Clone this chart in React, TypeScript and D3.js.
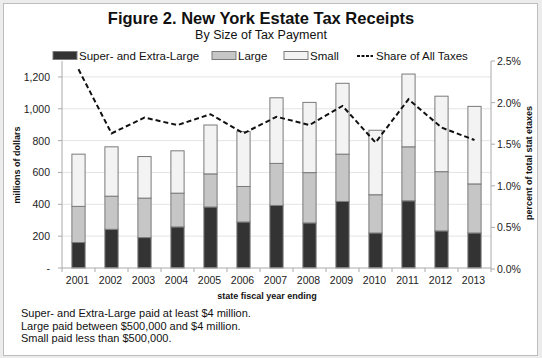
import React, { useEffect, useRef } from 'react';
import * as d3 from 'd3';

const years = ['2001', '2002', '2003', '2004', '2005', '2006', '2007', '2008', '2009', '2010', '2011', '2012', '2013'];
const superLarge = [160, 243, 191, 258, 383, 289, 393, 283, 418, 220, 422, 233, 220];
const large = [227, 208, 248, 212, 208, 223, 264, 316, 297, 240, 339, 372, 308];
const small = [328, 310, 261, 266, 307, 345, 412, 441, 445, 405, 457, 474, 487];
const share = [2.4, 1.63, 1.82, 1.73, 1.86, 1.63, 1.83, 1.73, 1.96, 1.52, 2.04, 1.7, 1.55];
const leftTicks = [0, 200, 400, 600, 800, 1000, 1200];
const rightTicks = [0, 0.5, 1.0, 1.5, 2.0, 2.5];
const footnotes = [
  'Super- and Extra-Large paid at least $4 million.',
  'Large paid between $500,000 and $4 million.',
  'Small paid less than $500,000.',
];

const FONT = '"Liberation Sans", Arial, sans-serif';

const App = () => {
  const svgRef = useRef(null);

  useEffect(() => {
    const svg = d3.select(svgRef.current);
    svg.selectAll('*').remove();

    const W = 542, H = 358;
    const plot = { left: 62, right: 491, top: 61, bottom: 268 };

    svg.append('rect').attr('width', W).attr('height', H).attr('fill', '#ececec');
    svg.append('rect')
      .attr('x', 3.5).attr('y', 3.5).attr('width', 534).attr('height', 352)
      .attr('fill', 'white').attr('stroke', '#bdbdbd');

    const x = d3.scaleBand().domain(years).range([plot.left, plot.right]).paddingInner(0.6).paddingOuter(0.3);
    const band = d3.scaleBand().domain(years).range([plot.left, plot.right]);
    const y = d3.scaleLinear().domain([0, 1300]).range([plot.bottom, plot.top]);
    const y2 = d3.scaleLinear().domain([0, 2.5]).range([plot.bottom + 1, plot.top]);

    // gridlines
    svg.append('g')
      .selectAll('line')
      .data(leftTicks.slice(1))
      .join('line')
        .attr('x1', plot.left).attr('x2', plot.right)
        .attr('y1', d => y(d)).attr('y2', d => y(d))
        .attr('stroke', '#e4e4e4').attr('stroke-width', 1);

    // bars
    const rows = years.map((yr, i) => ({ label: yr, superLarge: superLarge[i], large: large[i], small: small[i] }));
    const keys = ['superLarge', 'large', 'small'];
    const color = d3.scaleOrdinal().domain(keys).range(['#333333', '#c6c6c6', '#f3f3f3']);
    const stacked = d3.stack().keys(keys)(rows);

    svg.append('g')
      .selectAll('g')
      .data(stacked)
      .join('g')
        .attr('fill', d => color(d.key))
      .selectAll('rect')
      .data(d => d)
      .join('rect')
        .attr('x', (d, i) => x(years[i]))
        .attr('y', d => y(d[1]))
        .attr('width', x.bandwidth())
        .attr('height', d => y(d[0]) - y(d[1]))
        .attr('stroke', '#7a7a7a').attr('stroke-width', 1);

    // axes lines
    svg.append('line').attr('x1', plot.left).attr('x2', plot.left).attr('y1', plot.top).attr('y2', plot.bottom)
      .attr('stroke', '#aaa');
    svg.append('line').attr('x1', plot.right).attr('x2', plot.right).attr('y1', plot.top).attr('y2', plot.bottom)
      .attr('stroke', '#aaa');
    svg.append('line').attr('x1', plot.left).attr('x2', plot.right).attr('y1', plot.bottom).attr('y2', plot.bottom)
      .attr('stroke', '#aaa');

    // x ticks between categories
    svg.append('g')
      .selectAll('line')
      .data(years)
      .join('line')
        .attr('x1', d => band(d)).attr('x2', d => band(d))
        .attr('y1', plot.bottom).attr('y2', plot.bottom + 4)
        .attr('stroke', '#aaa');
    svg.append('line').attr('x1', plot.right).attr('x2', plot.right).attr('y1', plot.bottom).attr('y2', plot.bottom + 4)
      .attr('stroke', '#aaa');

    // left ticks
    svg.append('g')
      .selectAll('line')
      .data(leftTicks)
      .join('line')
        .attr('x1', plot.left - 4).attr('x2', plot.left)
        .attr('y1', d => y(d)).attr('y2', d => y(d))
        .attr('stroke', '#aaa');
    svg.append('g')
      .selectAll('text')
      .data(leftTicks)
      .join('text')
        .attr('x', 50).attr('y', d => y(d) + 4)
        .attr('text-anchor', 'end')
        .attr('font-family', FONT).attr('font-size', 10.5).attr('fill', '#222')
        .text(d => d === 0 ? '-' : d3.format(',')(d));

    // right ticks
    svg.append('g')
      .selectAll('line')
      .data(rightTicks)
      .join('line')
        .attr('x1', plot.right).attr('x2', plot.right + 4)
        .attr('y1', d => y2(d)).attr('y2', d => y2(d))
        .attr('stroke', '#aaa');
    svg.append('g')
      .selectAll('text')
      .data(rightTicks)
      .join('text')
        .attr('x', 497).attr('y', d => y2(d) + 4)
        .attr('font-family', FONT).attr('font-size', 10.5).attr('fill', '#222')
        .text(d => d.toFixed(1) + '%');

    // x labels
    svg.append('g')
      .selectAll('text')
      .data(years)
      .join('text')
        .attr('x', d => band(d) + band.bandwidth() / 2 - 1)
        .attr('y', 284)
        .attr('text-anchor', 'middle')
        .attr('font-family', FONT).attr('font-size', 10.5).attr('fill', '#222')
        .text(d => d);

    // share line
    const line = d3.line()
      .x((d, i) => band(years[i]) + band.bandwidth() / 2)
      .y(d => y2(d));
    svg.append('path')
      .datum(share)
      .attr('d', line)
      .attr('fill', 'none')
      .attr('stroke', '#111')
      .attr('stroke-width', 2)
      .attr('stroke-dasharray', '5,3');

    // titles
    svg.append('text').attr('x', 261).attr('y', 24).attr('text-anchor', 'middle')
      .attr('font-family', FONT).attr('font-weight', 'bold').attr('font-size', 16.5).attr('fill', '#111')
      .text('Figure 2. New York Estate Tax Receipts');
    svg.append('text').attr('x', 261).attr('y', 39).attr('text-anchor', 'middle')
      .attr('font-family', FONT).attr('font-size', 12.5).attr('fill', '#111')
      .text('By Size of Tax Payment');

    // legend
    const legend = [
      { key: 'superLarge', label: 'Super- and Extra-Large', x: 53 },
      { key: 'large', label: 'Large', x: 212 },
      { key: 'small', label: 'Small', x: 284 },
    ];
    const lg = svg.append('g');
    lg.selectAll('rect')
      .data(legend)
      .join('rect')
        .attr('x', d => d.x).attr('y', 51.5).attr('width', 24).attr('height', 8)
        .attr('fill', d => color(d.key)).attr('stroke', '#7a7a7a');
    lg.selectAll('text')
      .data(legend)
      .join('text')
        .attr('x', d => d.x + 26).attr('y', 60)
        .attr('font-family', FONT).attr('font-size', 11.5).attr('fill', '#111')
        .text(d => d.label);
    lg.append('line').attr('x1', 357).attr('x2', 373).attr('y1', 56).attr('y2', 56)
      .attr('stroke', '#111').attr('stroke-width', 2).attr('stroke-dasharray', '3,1.5');
    lg.append('text').attr('x', 376).attr('y', 60)
      .attr('font-family', FONT).attr('font-size', 11.5).attr('fill', '#111')
      .text('Share of All Taxes');

    // axis titles
    svg.append('text')
      .attr('transform', `translate(20,165) rotate(-90)`)
      .attr('text-anchor', 'middle')
      .attr('font-family', FONT).attr('font-weight', 'bold').attr('font-size', 9).attr('fill', '#111')
      .text('millions of dollars');
    svg.append('text')
      .attr('transform', `translate(532,163) rotate(-90)`)
      .attr('text-anchor', 'middle')
      .attr('font-family', FONT).attr('font-weight', 'bold').attr('font-size', 9).attr('fill', '#111')
      .text('percent of total stat etaxes');
    svg.append('text').attr('x', 267).attr('y', 299).attr('text-anchor', 'middle')
      .attr('font-family', FONT).attr('font-weight', 'bold').attr('font-size', 9).attr('fill', '#111')
      .text('state fiscal year ending');

    // footnotes
    svg.append('g')
      .selectAll('text')
      .data(footnotes)
      .join('text')
        .attr('x', 21).attr('y', (d, i) => 317 + i * 12.5)
        .attr('font-family', FONT).attr('font-size', 11).attr('fill', '#111')
        .text(d => d);
  }, []);

  return <svg ref={svgRef} width={542} height={358} style={{ position: 'absolute', left: 0, top: 0 }}></svg>;
};

export default App;
